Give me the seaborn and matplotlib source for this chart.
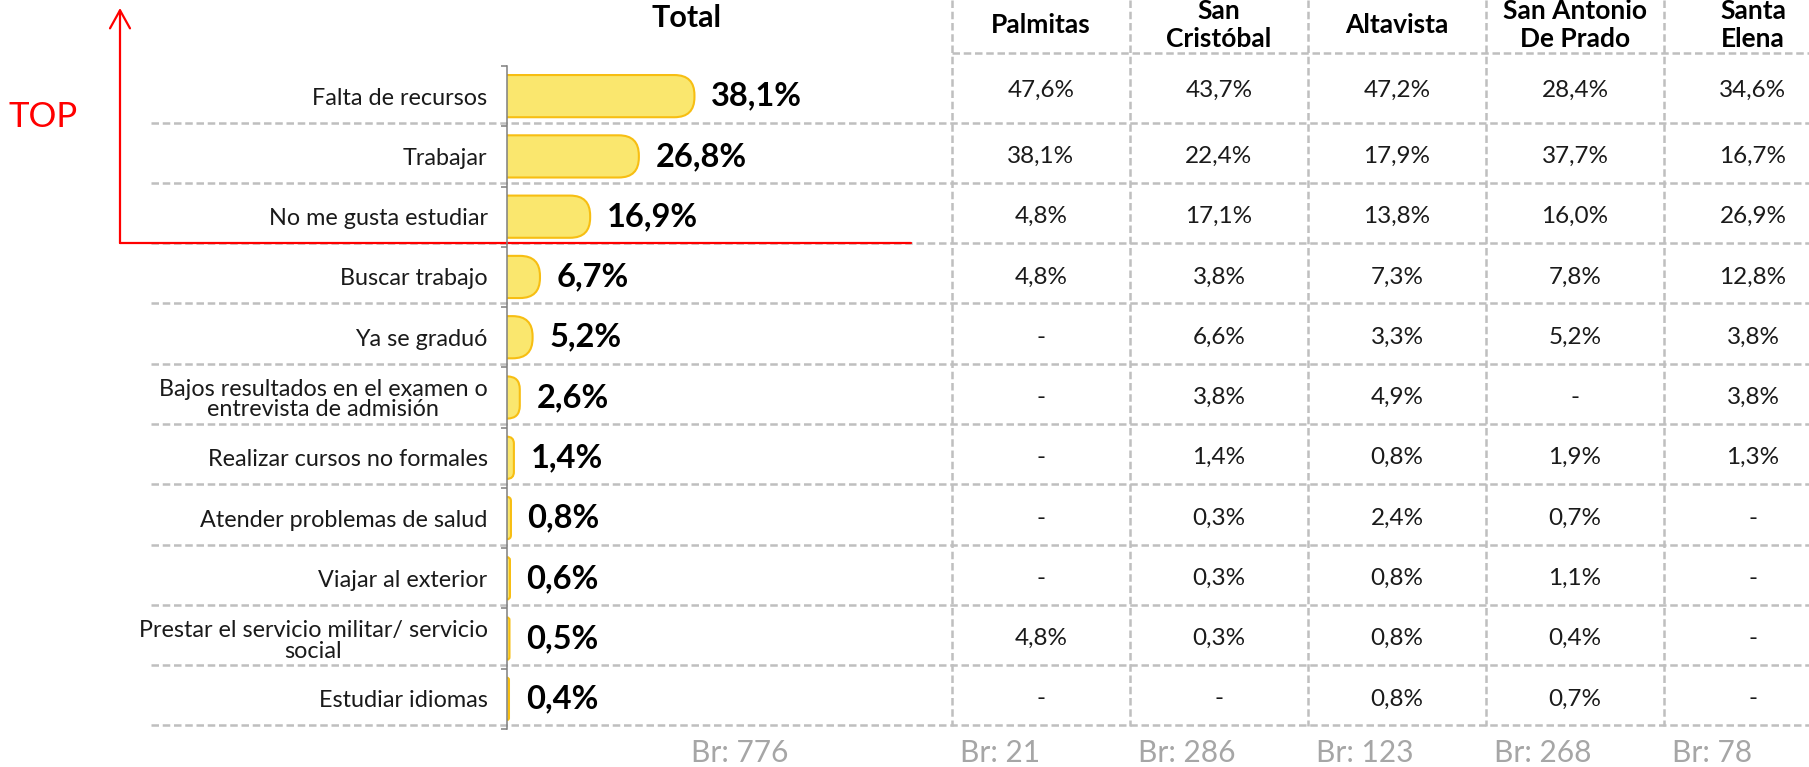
"""
Motivos para no estudiar - barra Total + tabla por corregimiento.
"""

import numpy as np
import pandas as pd
import matplotlib
matplotlib.use("Agg")
import matplotlib.pyplot as plt
import matplotlib.transforms as mtransforms
from matplotlib.patches import FancyBboxPatch, Rectangle
import seaborn as sns

# ---------------------------------------------------------------- data
categories = [
    "Falta de recursos",
    "Trabajar",
    "No me gusta estudiar",
    "Buscar trabajo",
    "Ya se graduó",
    "Bajos resultados en el examen o\nentrevista de admisión",
    "Realizar cursos no formales",
    "Atender problemas de salud",
    "Viajar al exterior",
    "Prestar el servicio militar/ servicio\nsocial",
    "Estudiar idiomas",
]
total = [38.1, 26.8, 16.9, 6.7, 5.2, 2.6, 1.4, 0.8, 0.6, 0.5, 0.4]

palmitas = [47.6, 38.1, 4.8, 4.8, None, None, None, None, None, 4.8, None]
san_cristobal = [43.7, 22.4, 17.1, 3.8, 6.6, 3.8, 1.4, 0.3, 0.3, 0.3, None]
altavista = [47.2, 17.9, 13.8, 7.3, 3.3, 4.9, 0.8, 2.4, 0.8, 0.8, 0.8]
san_antonio = [28.4, 37.7, 16.0, 7.8, 5.2, None, 1.9, 0.7, 1.1, 0.4, 0.7]
santa_elena = [34.6, 16.7, 26.9, 12.8, 3.8, 3.8, 1.3, None, None, None, None]

zones = ["Palmitas", "San\nCristóbal", "Altavista", "San Antonio\nDe Prado", "Santa\nElena"]
zone_values = [palmitas, san_cristobal, altavista, san_antonio, santa_elena]

total_base = 776
zone_bases = [21, 286, 123, 268, 78]

# ---------------------------------------------------------------- layout (pixels)
W, H = 1809, 767
AX_LEFT = 507          # bar baseline
ROW_TOP, ROW_BOTTOM = 66, 729
PX_PER_PCT = 4.92
COL_LEFT, COL_W = 952, 178

BAR_FILL = "#FAE76E"
BAR_EDGE = "#F7BE12"
GRID = "#BFBFBF"
TEXT = "#1a1a1a"
RED = "#FF0000"


def fmt(v):
    if v is None:
        return "-"
    return f"{v:.1f}".replace(".", ",") + "%"


sns.set_style("white")
plt.rcParams["font.family"] = ["Lato", "DejaVu Sans"]

fig = plt.figure(figsize=(W / 100, H / 100), dpi=100)

# overlay in pixel coordinates (table grid, headers, annotations)
ov = fig.add_axes([0, 0, 1, 1])
ov.set_xlim(0, W)
ov.set_ylim(H, 0)
ov.axis("off")

# bar axes
ax = fig.add_axes([AX_LEFT / W, (H - ROW_BOTTOM) / H,
                   (W - AX_LEFT) / W, (ROW_BOTTOM - ROW_TOP) / H])
ax.patch.set_alpha(0)

df = pd.DataFrame({"motivo": categories, "total": total})
sns.barplot(data=df, x="total", y="motivo", orient="h", color=BAR_FILL,
            width=0.7, ax=ax)
ax.set_xlim(0, (W - AX_LEFT) / PX_PER_PCT)
ax.set_ylim(len(categories) - 0.5, -0.5)

# rounded right end on every bar
row_px = (ROW_BOTTOM - ROW_TOP) / len(categories)
aspect = PX_PER_PCT / row_px
r_max = 20 / PX_PER_PCT
for bar in list(ax.patches):
    x0, y0 = bar.get_x(), bar.get_y()
    w, h = bar.get_width(), bar.get_height()
    bar.set_visible(False)
    dr = min(r_max, w)
    ext = 2 * dr + 1
    rb = FancyBboxPatch((x0 - ext, y0), w + ext, h,
                        boxstyle=f"round,pad=0,rounding_size={dr}",
                        mutation_aspect=aspect, facecolor=BAR_FILL,
                        edgecolor=BAR_EDGE, lw=1.5)
    ax.add_patch(rb)
    rb.set_clip_path(Rectangle((0, y0 - 0.1), w + 2, h + 0.2,
                               transform=ax.transData))

for i, v in enumerate(total):
    ax.annotate(fmt(v), xy=(v, i), xytext=(12, 0), textcoords="offset points",
                ha="left", va="center", fontsize=23.5, fontweight="bold",
                color="black")

ax.set_xlabel("")
ax.set_ylabel("")
ax.set_xticks([])
ax.set_yticks(np.arange(-0.5, len(categories)), minor=True)
ax.tick_params(axis="y", which="major", left=False, length=0, pad=14,
               labelsize=16.8, labelcolor=TEXT)
ax.tick_params(axis="y", which="minor", left=True, length=4, width=1.1,
               color="#7f7f7f", direction="out")
for lbl in ax.get_yticklabels():
    lbl.set_multialignment("center")
    lbl.set_linespacing(1.0)
for side in ["top", "right", "bottom"]:
    ax.spines[side].set_visible(False)
ax.spines["left"].set_color("#7f7f7f")
ax.spines["left"].set_linewidth(1.1)

# ---------------------------------------------------------------- table
trans = mtransforms.blended_transform_factory(ov.transData, ax.transData)
dash = (0, (3, 1.5))

for i in range(len(categories)):
    ov.plot([151, W], [i + 0.44, i + 0.44], transform=trans, color=GRID,
            lw=1.8, ls=dash)
ov.plot([COL_LEFT, W], [53, 53], color=GRID, lw=1.8, ls=dash)
for c in range(len(zones) + 1):
    x = COL_LEFT + COL_W * c
    ov.plot([x, x], [0, 726], color=GRID, lw=1.8, ls=dash)

for c, (name, vals) in enumerate(zip(zones, zone_values)):
    cx = COL_LEFT + COL_W * (c + 0.5)
    ov.text(cx, 25, name, ha="center", va="center", fontsize=19,
            fontweight="bold", color="black", linespacing=1.2)
    for i, v in enumerate(vals):
        # first table row is taller (starts under the header line)
        y = i - 0.1 if i == 0 else i
        ov.text(cx, y, fmt(v), transform=trans, ha="center", va="center",
                fontsize=17.5, color=TEXT)
    ov.text(COL_LEFT + COL_W * c + 8, 753, f"Br: {zone_bases[c]}",
            ha="left", va="center", fontsize=21.5, color="#A6A6A6")

ov.text(686, 18, "Total", ha="center", va="center", fontsize=22,
        fontweight="bold", color="black")
ov.text(740, 753, f"Br: {total_base}", ha="center", va="center",
        fontsize=21.5, color="#A6A6A6")

# ---------------------------------------------------------------- TOP marker
ov.plot([120, 911], [243, 243], color=RED, lw=1.6)
ov.annotate("", xy=(120, 8), xytext=(120, 243),
            arrowprops=dict(arrowstyle="->, head_length=0.65, head_width=0.36",
                            color=RED, lw=1.6, mutation_scale=20,
                            shrinkA=0, shrinkB=0))
ov.text(43, 117, "TOP", ha="center", va="center", fontsize=25, color=RED)

fig.savefig("out.png", dpi=100)
